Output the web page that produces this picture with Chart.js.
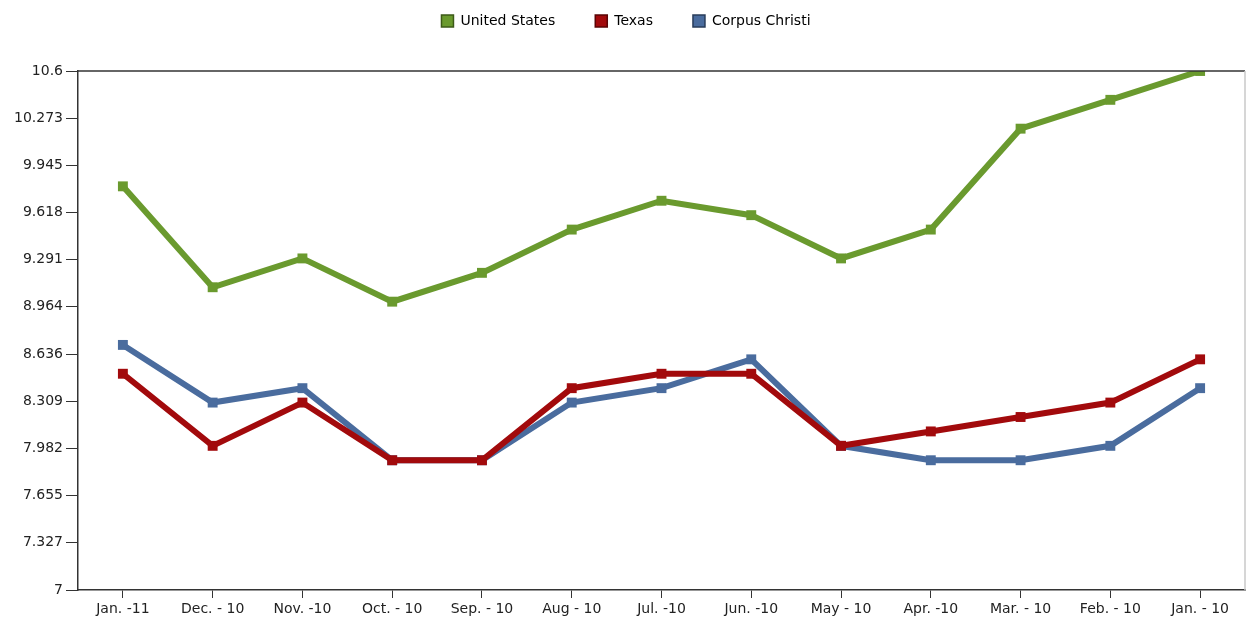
<!DOCTYPE html>
<html>
<head>
<meta charset="utf-8">
<script src="https://cdn.jsdelivr.net/npm/chart.js@4"></script>
<style>
  html, body { margin: 0; padding: 0; background: #fff; }
  #wrap { width: 1252px; height: 629px; }
</style>
</head>
<body>
<div id="wrap"><canvas id="rateChart" width="1252" height="629"></canvas></div>
<script>
const months = ["Jan. -11", "Dec. - 10", "Nov. -10", "Oct. - 10", "Sep. - 10", "Aug - 10",
  "Jul. -10", "Jun. -10", "May - 10", "Apr. -10", "Mar. - 10", "Feb. - 10", "Jan. - 10"];

const unitedStates = [9.8, 9.1, 9.3, 9.0, 9.2, 9.5, 9.7, 9.6, 9.3, 9.5, 10.2, 10.4, 10.6];
const texas = [8.5, 8.0, 8.3, 7.9, 7.9, 8.4, 8.5, 8.5, 8.0, 8.1, 8.2, 8.3, 8.6];
const corpusChristi = [8.7, 8.3, 8.4, 7.9, 7.9, 8.3, 8.4, 8.6, 8.0, 7.9, 7.9, 8.0, 8.4];

const yTicks = ["7", "7.327", "7.655", "7.982", "8.309", "8.636", "8.964",
  "9.291", "9.618", "9.945", "10.273", "10.6"];

const FONT = "'DejaVu Sans', Verdana, sans-serif";

// frame: dark top line, light right line
const frame = {
  id: "frame",
  afterInit(chart) {
    // leave room between legend and plot
    const lg = chart.legend;
    const fit = lg.fit;
    lg.fit = function () { fit.call(this); this.height += 33; };
  },
  afterDraw(chart) {
    const { ctx, chartArea: a } = chart;
    ctx.save();
    ctx.lineWidth = 1.5;
    ctx.strokeStyle = "#333";
    ctx.beginPath();
    ctx.moveTo(a.left, a.top);
    ctx.lineTo(a.right, a.top);
    ctx.stroke();
    ctx.strokeStyle = "#c8c8c8";
    ctx.beginPath();
    ctx.moveTo(a.right, a.top);
    ctx.lineTo(a.right, a.bottom);
    ctx.stroke();
    ctx.restore();
  }
};

function series(label, data, color, edge) {
  return {
    label: label,
    data: data,
    borderColor: color,
    backgroundColor: color,
    borderWidth: 6,
    pointStyle: "rect",
    pointRadius: 7,
    pointHoverRadius: 7,
    pointBorderWidth: 0,
    tension: 0,
    edge: edge
  };
}

new Chart(document.getElementById("rateChart"), {
  type: "line",
  data: {
    labels: months,
    datasets: [
      series("United States", unitedStates, "#6a9a2e", "#3d5a18"),
      series("Texas", texas, "#a20a0c", "#5a0405"),
      series("Corpus Christi", corpusChristi, "#4a6c9e", "#283c5a")
    ]
  },
  options: {
    responsive: false,
    animation: false,
    layout: { padding: { top: -26, right: 0, left: 0, bottom: 0 } },
    plugins: {
      tooltip: { enabled: false },
      legend: {
        position: "top",
        labels: {
          font: { family: FONT, size: 14 },
          color: "#111",
          boxWidth: 12,
          boxHeight: 12,
          padding: 40,
          generateLabels(chart) {
            return chart.data.datasets.map((d, i) => ({
              text: d.label,
              fillStyle: d.borderColor,
              strokeStyle: d.edge,
              lineWidth: 1.5,
              datasetIndex: i,
              hidden: false
            }));
          }
        }
      }
    },
    scales: {
      x: {
        offset: true,
        grid: { display: true, drawOnChartArea: false, drawTicks: true, tickLength: 8, color: "#333", offset: false },
        border: { display: true, color: "#333", width: 1.5 },
        ticks: { font: { family: FONT, size: 14 }, color: "#222", maxRotation: 0, autoSkip: false, padding: 3 },
        afterFit(s) { s.height = 39; }
      },
      y: {
        min: 7,
        max: 10.6,
        afterBuildTicks(s) { s.ticks = yTicks.map(v => ({ value: parseFloat(v) })); },
        grid: { display: true, drawOnChartArea: false, drawTicks: true, tickLength: 12, color: "#333" },
        border: { display: true, color: "#333", width: 1.5 },
        ticks: {
          font: { family: FONT, size: 14 },
          color: "#222",
          padding: 3,
          callback: (v) => yTicks.find(t => Math.abs(parseFloat(t) - v) < 1e-6) || ""
        },
        afterFit(s) { s.width = 78; }
      }
    }
  },
  plugins: [frame]
});
</script>
</body>
</html>
